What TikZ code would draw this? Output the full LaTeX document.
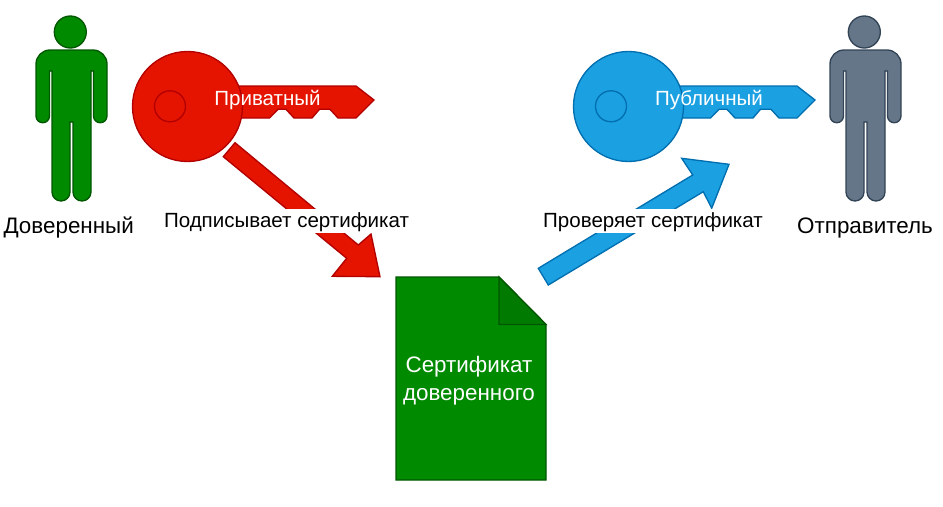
\documentclass[tikz,border=0pt]{standalone}
\usepackage{fontspec}
\setmainfont{Liberation Sans}
\tikzset{
  x=0.75pt,y=-0.75pt,
  outline/.style={line width=1pt,line join=miter},
  greenfig/.style={outline,fill=grn,draw=grnd},
  foldfig/.style={outline,fill=grnf,draw=grnd},
  redfig/.style={outline,fill=rd,draw=rdd},
  bluefig/.style={outline,fill=blu,draw=blud},
  greyfig/.style={outline,fill=gry,draw=gryd},
  person/.pic={
    \path[pic actions] (70.3,32) circle[radius=16];
    \path[pic actions] (50,50) arc[start angle=270,end angle=180,radius=14] -- (36,116)
      arc[start angle=180,end angle=0,radius=6.75] -- (49.5,71) -- (52,71) -- (52,192)
      arc[start angle=180,end angle=0,radius=9] -- (70,122) -- (73,122) -- (73,192)
      arc[start angle=180,end angle=0,radius=9] -- (91,71) -- (93.5,71) -- (93.5,116)
      arc[start angle=180,end angle=0,radius=6.75] -- (107,64)
      arc[start angle=0,end angle=-90,radius=14] -- cycle;
  },
  keyshape/.pic={
    \path[pic actions] (230,86) -- (356,86) -- (374,100) -- (356,118) -- (338,118) -- (330,109.3)
      -- (319.5,109.3) -- (312,118) -- (294,118) -- (286,109.3) -- (278,109.3) -- (269.5,118)
      -- (230,118) -- cycle;
    \path[pic actions] (187.5,106.5) circle[radius=55];
    \path[pic actions] (170,106.3) circle[radius=15.5];
  },
  namelbl/.style={font=\fontsize{16.8}{20}\selectfont,text=black,inner sep=0pt,align=center},
  keylbl/.style={font=\fontsize{15.4}{18}\selectfont,text=white,inner sep=0pt,align=center},
  certlbl/.style={font=\fontsize{16.8}{20}\selectfont,text=white,inner sep=0pt,align=center},
  edgelbl/.style={font=\fontsize{15.4}{18}\selectfont,text=black,fill=white,inner xsep=0.5pt,inner ysep=0pt,text height=14pt,text depth=4pt},
}
\definecolor{grn}{HTML}{008A00}\definecolor{grnd}{HTML}{005700}\definecolor{grnf}{HTML}{007A00}
\definecolor{rd}{HTML}{E51400}\definecolor{rdd}{HTML}{B20000}
\definecolor{blu}{HTML}{1BA1E2}\definecolor{blud}{HTML}{006EAF}
\definecolor{gry}{HTML}{647687}\definecolor{gryd}{HTML}{314354}
\begin{document}
\begin{tikzpicture}
\useasboundingbox (0,0) rectangle (943,507);
\pic[greenfig] (trusted) at (0,0) {person};
\pic[greyfig] (sender) at (794,0) {person};
\pic[redfig] (privkey) at (0,0) {keyshape};
\pic[bluefig] (pubkey) at (441,0) {keyshape};
% block arrows
\path[redfig] (235,142.7) -- (358.3,245) -- (371,234) -- (380,276.7) -- (332.3,276.3) -- (346.7,258.3) -- (223.3,156.7) -- cycle;
\path[bluefig] (538.3,268.3) -- (692.7,175) -- (681.7,158.3) -- (729,164.3) -- (711.7,208.3) -- (703.3,191.7) -- (548.3,285) -- cycle;
% certificate
\path[greenfig] (396,277) -- (499,277) -- (546,324.5) -- (546,480) -- (396,480) -- cycle;
\path[foldfig] (499,277) -- (546,324.5) -- (499,324.5) -- cycle;
% labels
\node[keylbl] (privlabel) at (267.5,100.5) {Приватный};
\node[keylbl] (publabel) at (709,100.5) {Публичный};
\node[namelbl] (trustedlabel) at (68.7,228) {Доверенный};
\node[namelbl] (senderlabel) at (865,228) {Отправитель};
\node[edgelbl] (signlabel) at (286.5,221) {Подписывает сертификат};
\node[edgelbl] (checklabel) at (653,221) {Проверяет сертификат};
\node[certlbl] (certlabel) at (469,380.5) {Сертификат\\[0.75pt]доверенного};
\end{tikzpicture}
\end{document}
